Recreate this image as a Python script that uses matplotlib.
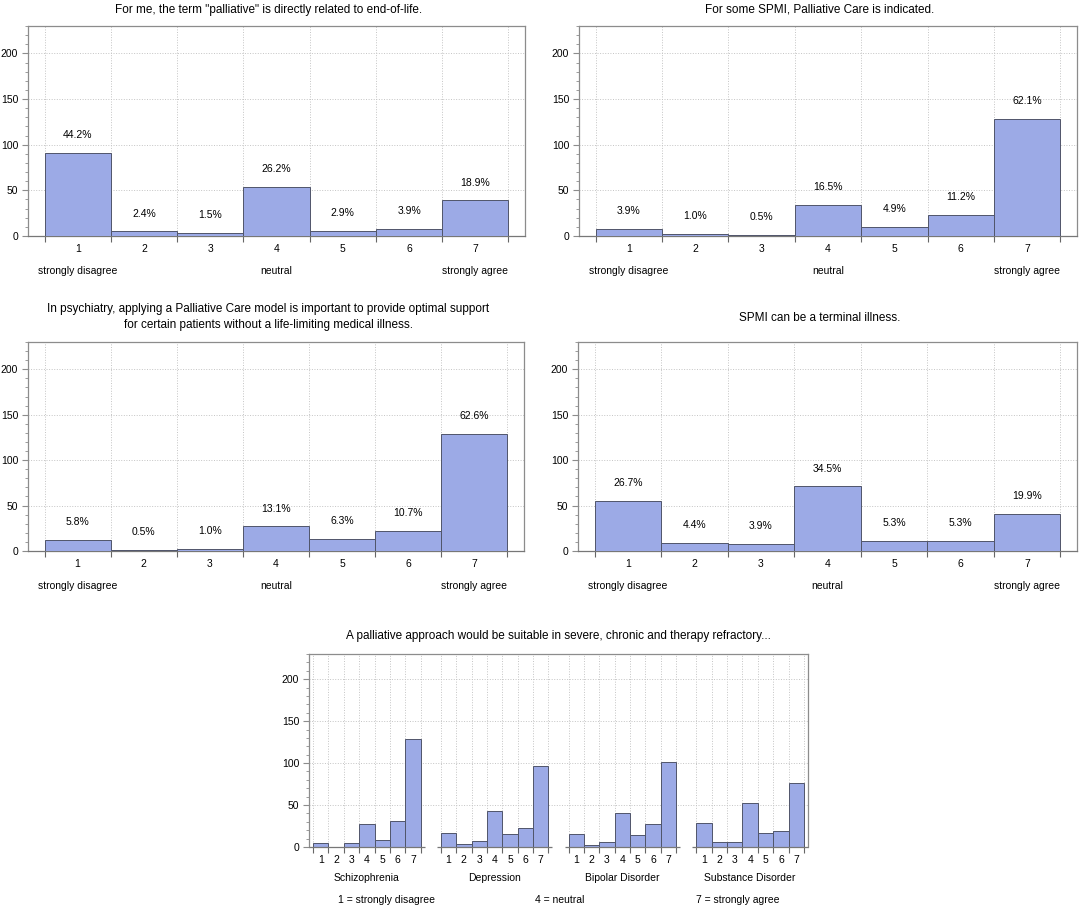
import numpy as np
import matplotlib
matplotlib.use('Agg')
import matplotlib.pyplot as plt
from matplotlib.ticker import MultipleLocator

plt.rcParams['font.family'] = ['Liberation Sans', 'DejaVu Sans']

levels = ['1', '2', '3', '4', '5', '6', '7']
anchors = {0: 'strongly disagree', 3: 'neutral', 6: 'strongly agree'}

titles = [
    'For me, the term "palliative" is directly related to end-of-life.',
    'For some SPMI, Palliative Care is indicated.',
    'In psychiatry, applying a Palliative Care model is important to provide optimal support\n'
    'for certain patients without a life-limiting medical illness.',
    'SPMI can be a terminal illness.',
]

q1_counts = [91, 5, 3, 54, 6, 8, 39]
q1_pct = [44.2, 2.4, 1.5, 26.2, 2.9, 3.9, 18.9]
q2_counts = [8, 2, 1, 34, 10, 23, 128]
q2_pct = [3.9, 1.0, 0.5, 16.5, 4.9, 11.2, 62.1]
q3_counts = [12, 1, 2, 27, 13, 22, 129]
q3_pct = [5.8, 0.5, 1.0, 13.1, 6.3, 10.7, 62.6]
q4_counts = [55, 9, 8, 71, 11, 11, 41]
q4_pct = [26.7, 4.4, 3.9, 34.5, 5.3, 5.3, 19.9]

bottom_title = 'A palliative approach would be suitable in severe, chronic and therapy refractory...'
disorders = ['Schizophrenia', 'Depression', 'Bipolar Disorder', 'Substance Disorder']
schizo = [5, 0, 5, 28, 8, 31, 129]
depression = [17, 3, 7, 43, 16, 23, 97]
bipolar = [16, 2, 6, 40, 14, 27, 101]
substance = [29, 6, 6, 53, 17, 19, 76]
legend_notes = ['1 = strongly disagree', '4 = neutral', '7 = strongly agree']

BAR = '#9caae6'
EDGE = '#50556a'
SPINE = '#8c8c8c'
GRID = '#c4c4c4'

W, H = 1084, 918
fig = plt.figure(figsize=(W / 100, H / 100), dpi=100)


def px_axes(left, top, right, bottom):
    return fig.add_axes([left / W, 1 - bottom / H, (right - left) / W, (bottom - top) / H])


def style_y(ax):
    ax.set_ylim(0, 230)
    ax.yaxis.set_major_locator(MultipleLocator(50))
    ax.yaxis.set_minor_locator(MultipleLocator(10))
    ax.tick_params(axis='y', which='major', length=4, width=0.8, color=SPINE, pad=3, labelsize=7.5)
    ax.tick_params(axis='y', which='minor', length=2.2, width=0.6, color=SPINE)
    ax.grid(axis='y', which='major', ls=':', lw=0.7, color=GRID, zorder=0)
    for s in ax.spines.values():
        s.set_color(SPINE)
        s.set_linewidth(0.9)


def draw_scale(ax, counts, pcts):
    x = np.arange(1, 8)
    ax.bar(x, counts, width=1.0, color=BAR, edgecolor=EDGE, linewidth=0.7, zorder=3)
    for xi, c, p in zip(x, counts, pcts):
        ax.text(xi, c + 19.5, f'{p:.1f}%', ha='center', va='center', fontsize=7.5)
    ax.set_xlim(0.25, 7.75)
    ax.set_xticks(x)
    ax.set_xticklabels(levels)
    ax.set_xticks(np.arange(0.5, 8, 1), minor=True)
    ax.tick_params(axis='x', which='major', length=0, pad=6, labelsize=7.5)
    ax.tick_params(axis='x', which='minor', length=4.5, width=0.8, color='#666666')
    ax.grid(axis='x', which='minor', ls=':', lw=0.7, color=GRID, zorder=0)
    style_y(ax)
    ax.spines['bottom'].set_color('#777777')
    for i, word in anchors.items():
        ax.annotate(word, xy=(x[i], 0), xycoords=('data', 'axes fraction'),
                    xytext=(0, -35), textcoords='offset pixels',
                    ha='center', va='center', fontsize=7.5)


boxes = [(28, 26, 525, 236), (579, 26, 1077, 236), (28, 342, 524, 551), (578, 342, 1077, 551)]
title_pos = [(269, 10), (820, 10), (268, 317), (820, 318)]
series = [(q1_counts, q1_pct), (q2_counts, q2_pct), (q3_counts, q3_pct), (q4_counts, q4_pct)]

for box, (tx, ty), (cnt, pct), ttl in zip(boxes, title_pos, series, titles):
    ax = px_axes(*box)
    draw_scale(ax, cnt, pct)
    fig.text(tx / W, 1 - ty / H, ttl, ha='center', va='center', fontsize=8.5, linespacing=1.45)

# bottom panel: four grouped histograms on a shared axis
ax = px_axes(309, 654, 808, 847)
step = 8.3
groups = [schizo, depression, bipolar, substance]
centers, edges = [], []
for g, (name, cnt) in enumerate(zip(disorders, groups)):
    x = g * step + np.arange(1, 8)
    ax.bar(x, cnt, width=1.0, color=BAR, edgecolor=EDGE, linewidth=0.7, zorder=3)
    ax.hlines(0, x[0] - 0.75, x[-1] + 0.75, color='#777777', lw=0.9, zorder=4, clip_on=False)
    centers.extend(x)
    edges.extend(g * step + np.arange(0.5, 8, 1))
    ax.annotate(name, xy=(x[3], 0), xycoords=('data', 'axes fraction'),
                xytext=(0, -31), textcoords='offset pixels',
                ha='center', va='center', fontsize=7.5)
ax.set_xlim(0.24, 3 * step + 7.76)
ax.set_xticks(centers)
ax.set_xticklabels(levels * 4)
ax.set_xticks(edges, minor=True)
ax.tick_params(axis='x', which='major', length=0, pad=6, labelsize=7.5)
ax.tick_params(axis='x', which='minor', length=4.5, width=0.8, color='#666666')
ax.grid(axis='x', which='minor', ls=':', lw=0.7, color=GRID, zorder=0)
style_y(ax)
ax.spines['bottom'].set_visible(False)

fig.text(558 / W, 1 - 636 / H, bottom_title, ha='center', va='center', fontsize=8.5)
for xn, note in zip([387, 560, 738], legend_notes):
    fig.text(xn / W, 1 - 900 / H, note, ha='center', va='center', fontsize=7.5)

fig.savefig('out.png', dpi=100)
